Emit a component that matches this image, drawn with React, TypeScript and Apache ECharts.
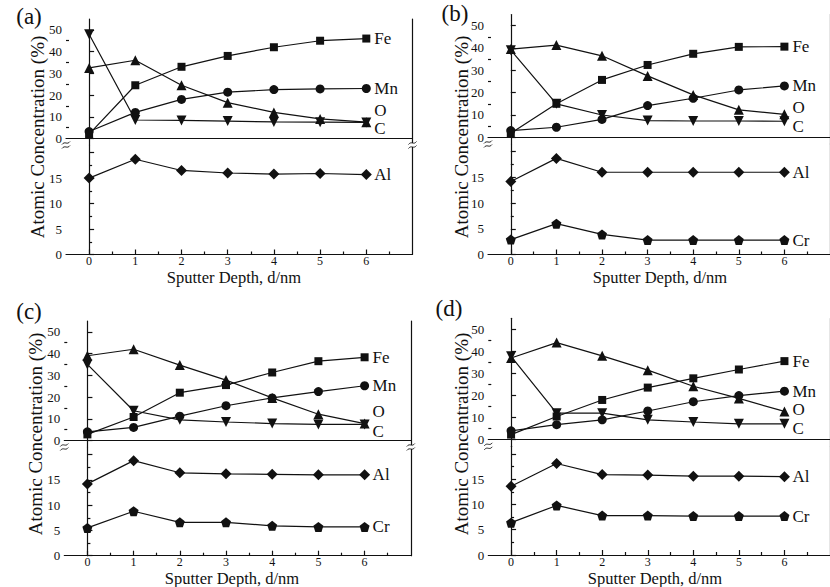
import React, { useEffect, useRef } from "react";
import * as echarts from "echarts";

// ---------- data ----------
const DEPTH = [0, 1, 2, 3, 4, 5, 6];
const X_LABELS = [0, 1, 2, 3, 4, 5, 6];
const X_MINOR = [0.5, 1.5, 2.5, 3.5, 4.5, 5.5, 6.5];
const UPPER_LABELS = [0, 10, 20, 30, 40, 50];
const UPPER_MINOR = [5, 15, 25, 35, 45];
const LOWER_TICKS = [0, 5, 10, 15, 20];
const LOWER_LABELS = [0, 5, 10, 15];
const LOWER_MINOR = [2.5, 7.5, 12.5, 17.5];

const FE_A = [2, 24.5, 33, 38, 42, 45, 46];
const MN_A = [3.2, 12, 18, 21.3, 22.5, 22.8, 23];
const O_A = [32.5, 36, 24.5, 16.5, 12, 9, 7.5];
const C_A = [48, 8.5, 8.3, 8, 7.6, 7.5, 7.4];
const AL_A = [15, 18.7, 16.5, 16, 15.8, 15.9, 15.7];

const FE_B = [1.8, 15, 25.7, 32.4, 37.4, 40.5, 40.6];
const MN_B = [3, 4.5, 8, 14.2, 17.5, 21.2, 23];
const O_B = [39.5, 41.3, 36.5, 27.5, 19, 12.3, 10.3];
const C_B = [39, 15, 10, 7.5, 7.3, 7.3, 7.2];
const AL_B = [14.2, 18.7, 16, 16, 16, 16, 16];
const CR_B = [2.9, 6, 3.9, 2.8, 2.8, 2.8, 2.8];

const FE_C = [2.8, 10.8, 22, 25.5, 31.3, 36.5, 38.3];
const MN_C = [4, 6, 11.2, 16, 19.6, 22.5, 25.2];
const O_C = [39, 42, 34.7, 27.8, 19.6, 12.1, 7.8];
const C_C = [35, 13.7, 9.5, 8.5, 7.8, 7.4, 7.4];
const AL_C = [14.2, 18.8, 16.4, 16.2, 16.1, 16, 16];
const CR_C = [5.5, 8.8, 6.6, 6.6, 5.9, 5.7, 5.7];

const FE_D = [2.3, 10.5, 18, 23.6, 27.8, 31.8, 35.6];
const MN_D = [4, 6.8, 9, 13, 17.2, 20, 22];
const O_D = [37, 44, 38, 31.5, 24.2, 18.7, 12.8];
const C_D = [37.8, 12, 12, 9, 8, 7.2, 7.2];
const AL_D = [13.6, 18.1, 15.9, 15.8, 15.6, 15.6, 15.5];
const CR_D = [6.4, 9.8, 7.8, 7.8, 7.7, 7.7, 7.7];

const PANEL_TAGS = ["(a)", "(b)", "(c)", "(d)"];
const X_TITLE = "Sputter Depth, d/nm";
const Y_TITLE = "Atomic Concentration (%)";

// ---------- layout ----------
const FONT = "'Liberation Serif', 'Times New Roman', 'DejaVu Serif', serif";
const INK = "#111";
const X_MIN = -0.5;
const X_MAX = 7;
const UP_MIN = -3;
const UP_MAX = 55;
const LO_MIN = 0;
const LO_MAX = 21.5;
const W = 346.5;

const LAYOUT = [
  { left: 66, top: 19, brk: 145, bottom: 254.5, tag: [29, 16], yt: [37, 137], xt: [234, 277], oDy: -12, cDy: 6 },
  { left: 488, top: 14.5, brk: 144, bottom: 254.5, tag: [455, 13], yt: [461, 137], xt: [660, 277], oDy: -7, cDy: 5 },
  { left: 64.3, top: 321, brk: 447, bottom: 555.7, tag: [29, 311], yt: [35, 434], xt: [232, 578], oDy: -12, cDy: 7 },
  { left: 488.3, top: 318.3, brk: 446.3, bottom: 555, tag: [449, 308], yt: [461, 434], xt: [655, 578], oDy: -1.5, cDy: 4.5 },
];

const PANEL_DATA = [
  { Fe: FE_A, Mn: MN_A, O: O_A, C: C_A, Al: AL_A, Cr: null },
  { Fe: FE_B, Mn: MN_B, O: O_B, C: C_B, Al: AL_B, Cr: CR_B },
  { Fe: FE_C, Mn: MN_C, O: O_C, C: C_C, Al: AL_C, Cr: CR_C },
  { Fe: FE_D, Mn: MN_D, O: O_D, C: C_D, Al: AL_D, Cr: CR_D },
];

const PENTAGON = "path://M50,0 L97.6,34.5 L79.4,90.5 L20.6,90.5 L2.4,34.5 Z";

const SERIES_STYLE: Record<string, any> = {
  Fe: { symbol: "rect", size: 8, rotate: 0, lower: false },
  Mn: { symbol: "circle", size: 9, rotate: 0, lower: false },
  O: { symbol: "triangle", size: 10, rotate: 0, lower: false },
  C: { symbol: "triangle", size: 10, rotate: 180, lower: false },
  Al: { symbol: "diamond", size: 11, rotate: 0, lower: true },
  Cr: { symbol: PENTAGON, size: 10, rotate: 0, lower: true },
};

function buildOption() {
  const grid: any[] = [];
  const xAxis: any[] = [];
  const yAxis: any[] = [];
  const series: any[] = [];
  const graphic: any[] = [];
  const lineStyle = { color: INK, width: 1.2 };
  const labelBase = { fontFamily: FONT, fontSize: 13, color: INK, lineHeight: 12 };
  const xLabelBase = { fontFamily: FONT, fontSize: 12, color: INK, lineHeight: 11 };

  LAYOUT.forEach((L, p) => {
    grid.push({ left: L.left, top: L.top, width: W, height: L.brk - L.top });
    grid.push({ left: L.left, top: L.brk, width: W, height: L.bottom - L.brk });
    const gU = 2 * p;
    const gL = 2 * p + 1;

    xAxis.push({
      type: "value", gridIndex: gU, min: X_MIN, max: X_MAX, position: "top",
      axisLine: { show: true, lineStyle }, axisTick: { show: false },
      axisLabel: { show: false }, splitLine: { show: false },
    });
    xAxis.push({
      type: "value", gridIndex: gL, min: X_MIN, max: X_MAX, position: "bottom",
      axisLine: { show: true, lineStyle },
      axisTick: { show: true, inside: true, length: 5, customValues: X_LABELS, lineStyle },
      axisLabel: { show: true, customValues: X_LABELS, margin: 1, ...xLabelBase },
      splitLine: { show: false },
    });
    xAxis.push({
      type: "value", gridIndex: gL, min: X_MIN, max: X_MAX, position: "bottom",
      axisLine: { show: false },
      axisTick: { show: true, inside: true, length: 3, customValues: X_MINOR, lineStyle },
      axisLabel: { show: false }, splitLine: { show: false },
    });

    yAxis.push({
      type: "value", gridIndex: gU, min: UP_MIN, max: UP_MAX, position: "left",
      axisLine: { show: true, lineStyle },
      axisTick: { show: true, inside: true, length: 5, customValues: UPPER_LABELS, lineStyle },
      axisLabel: { show: true, customValues: UPPER_LABELS, margin: 4, ...labelBase },
      splitLine: { show: false },
    });
    yAxis.push({
      type: "value", gridIndex: gU, min: UP_MIN, max: UP_MAX, position: "left",
      axisLine: { show: false },
      axisTick: { show: true, inside: true, length: 3, customValues: UPPER_MINOR, lineStyle },
      axisLabel: { show: false }, splitLine: { show: false },
    });
    yAxis.push({
      type: "value", gridIndex: gU, min: UP_MIN, max: UP_MAX, position: "right",
      axisLine: { show: true, lineStyle }, axisTick: { show: false },
      axisLabel: { show: false }, splitLine: { show: false },
    });
    yAxis.push({
      type: "value", gridIndex: gL, min: LO_MIN, max: LO_MAX, position: "left",
      axisLine: { show: true, lineStyle },
      axisTick: { show: true, inside: true, length: 5, customValues: LOWER_TICKS, lineStyle },
      axisLabel: { show: true, customValues: LOWER_LABELS, margin: 4, ...labelBase },
      splitLine: { show: false },
    });
    yAxis.push({
      type: "value", gridIndex: gL, min: LO_MIN, max: LO_MAX, position: "left",
      axisLine: { show: false },
      axisTick: { show: true, inside: true, length: 3, customValues: LOWER_MINOR, lineStyle },
      axisLabel: { show: false }, splitLine: { show: false },
    });
    yAxis.push({
      type: "value", gridIndex: gL, min: LO_MIN, max: LO_MAX, position: "right",
      axisLine: { show: true, lineStyle }, axisTick: { show: false },
      axisLabel: { show: false }, splitLine: { show: false },
    });

    const D: any = PANEL_DATA[p];
    ["O", "C", "Mn", "Fe", "Al", "Cr"].forEach((name) => {
      const vals: number[] | null = D[name];
      if (!vals) return;
      const st = SERIES_STYLE[name];
      const dy = name === "O" ? L.oDy : name === "C" ? L.cDy : 0;
      const data = vals.map((v, i) => {
        const item: any = { value: [DEPTH[i], v] };
        if (i === vals.length - 1) {
          item.label = {
            show: true, formatter: name, position: "right",
            distance: 8 - st.size / 2, offset: [0, dy],
            fontFamily: FONT, fontSize: 17, color: INK, lineHeight: 15,
          };
        }
        return item;
      });
      series.push({
        type: "line", name: `${name}-${p}`,
        xAxisIndex: st.lower ? 3 * p + 1 : 3 * p,
        yAxisIndex: st.lower ? 6 * p + 3 : 6 * p,
        data, symbol: st.symbol, symbolSize: st.size, symbolRotate: st.rotate,
        showAllSymbol: true, clip: false,
        lineStyle, itemStyle: { color: INK, borderWidth: 0 },
        label: { show: false },
        emphasis: { disabled: true },
        z: 3,
      });
    });

    graphic.push({
      type: "text", x: L.tag[0], y: L.tag[1],
      style: { text: PANEL_TAGS[p], fontFamily: FONT, fontSize: 23, fill: INK, textAlign: "center", textVerticalAlign: "middle" },
    });
    graphic.push({
      type: "text", x: L.yt[0], y: L.yt[1], rotation: Math.PI / 2,
      style: { text: Y_TITLE, fontFamily: FONT, fontSize: 19, fill: INK, textAlign: "center", textVerticalAlign: "middle" },
    });
    graphic.push({
      type: "text", x: L.xt[0], y: L.xt[1],
      style: { text: X_TITLE, fontFamily: FONT, fontSize: 16.5, lineHeight: 14, fill: INK, textAlign: "center", textVerticalAlign: "middle" },
    });
    // axis-break marks: white gap with two small wavy strokes
    [L.left, L.left + W].forEach((bx) => {
      graphic.push({
        type: "rect", z: 100, shape: { x: bx - 2, y: L.brk - 2, width: 4, height: 4 },
        style: { fill: "#fff" },
      });
      [-2, 2].forEach((off) => {
        graphic.push({
          type: "bezierCurve", z: 101,
          shape: {
            x1: bx - 4, y1: L.brk + off + 1.5,
            x2: bx + 4, y2: L.brk + off - 1.5,
            cpx1: bx - 1, cpy1: L.brk + off - 2.5,
            cpx2: bx + 1, cpy2: L.brk + off + 2.5,
          },
          style: { stroke: INK, lineWidth: 0.9, fill: "none" },
        });
      });
    });
  });

  return {
    animation: false,
    backgroundColor: "#fff",
    grid, xAxis, yAxis, series, graphic,
  };
}

export default function App() {
  const ref = useRef<HTMLDivElement>(null);
  useEffect(() => {
    document.body.style.margin = "0";
    if (!ref.current) return;
    const chart = echarts.init(ref.current, undefined, { renderer: "svg" });
    chart.setOption(buildOption() as any);
    return () => chart.dispose();
  }, []);
  return <div ref={ref} style={{ width: 830, height: 587 }} />;
}
